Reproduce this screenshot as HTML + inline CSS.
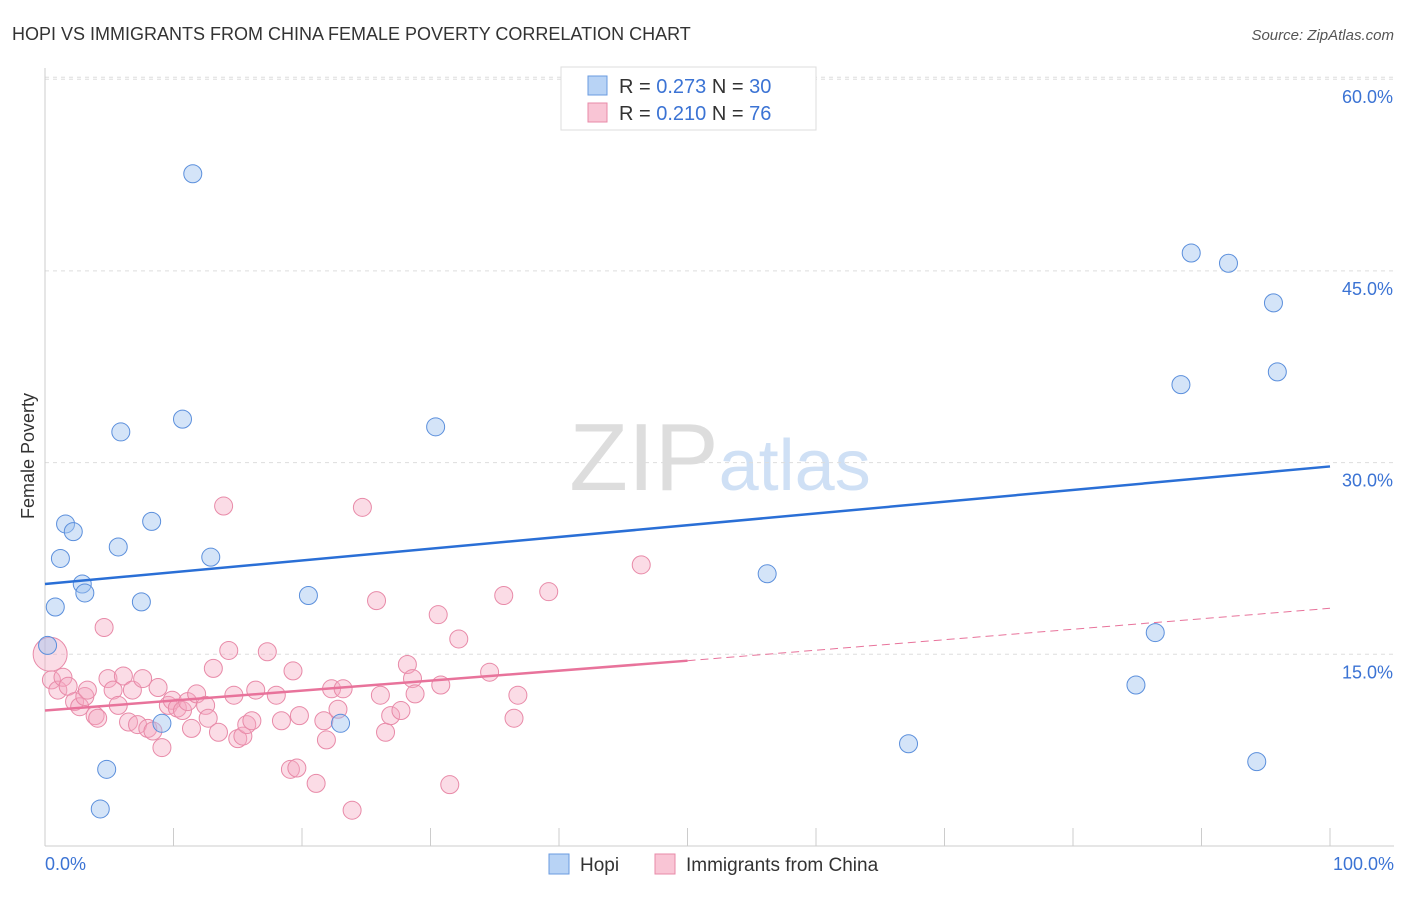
<!DOCTYPE html>
<html><head><meta charset="utf-8"><style>
body{margin:0;background:#fff;font-family:"Liberation Sans",sans-serif;}
svg text{font-family:"Liberation Sans",sans-serif;}
</style></head><body>
<svg id="chart" width="1406" height="892" viewBox="0 0 1406 892">
<text x="12" y="40" font-size="18" fill="#333">HOPI VS IMMIGRANTS FROM CHINA FEMALE POVERTY CORRELATION CHART</text>
<text x="1394" y="40" font-size="15" fill="#555" text-anchor="end" font-style="italic">Source: ZipAtlas.com</text>
<text x="720" y="490" font-size="96" text-anchor="middle" fill="#ddd" font-family="Liberation Serif"><tspan>ZIP</tspan><tspan fill="#cfe0f5" font-family="Liberation Sans" font-size="72">atlas</tspan></text>
<text transform="translate(34,456) rotate(-90)" font-size="18" fill="#333" text-anchor="middle">Female Poverty</text>
<g id="grid"></g><g id="marks"></g>
<g>
<rect x="561" y="67" width="255" height="63" fill="#fff" stroke="#ddd"/>
<rect x="588" y="76" width="19" height="19" fill="#b8d3f5" stroke="#6a9be0"/>
<rect x="588" y="103" width="19" height="19" fill="#f9c5d5" stroke="#e88aa8"/>
<text x="619" y="93" font-size="20" fill="#333">R = <tspan fill="#3b73d4">0.273</tspan>   N = <tspan fill="#3b73d4">30</tspan></text>
<text x="619" y="120" font-size="20" fill="#333">R = <tspan fill="#3b73d4">0.210</tspan>   N = <tspan fill="#3b73d4"> 76</tspan></text>
</g>
<g>
<rect x="549" y="854" width="20" height="20" fill="#b8d3f5" stroke="#6a9be0"/>
<text x="580" y="871" font-size="19" fill="#333">Hopi</text>
<rect x="655" y="854" width="20" height="20" fill="#f9c5d5" stroke="#e88aa8"/>
<text x="686" y="871" font-size="19" fill="#333">Immigrants from China</text>
</g>
</svg>
<script>
const yTicks=[15,30,45,60];
const yTickLabels=["15.0%","30.0%","45.0%","60.0%"];
const xTickLabels=["0.0%","100.0%"];
const hopiX=[11.5,89.2,92.1,95.6,88.4,95.9,5.9,10.7,30.4,1.6,2.2,8.3,5.7,1.2,12.9,2.9,3.1,0.8,7.5,20.5,56.2,0.2,86.4,84.9,23.0,9.1,67.2,4.8,94.3,4.3];
const hopiY=[52.6,46.4,45.6,42.5,36.1,37.1,32.4,33.4,32.8,25.2,24.6,25.4,23.4,22.5,22.6,20.5,19.8,18.7,19.1,19.6,21.3,15.7,16.7,12.6,9.6,9.6,8.0,6.0,6.6,2.9];
const chinaX=[0.4,0.5,1.0,1.4,1.8,2.3,2.7,3.1,3.3,3.9,4.1,4.6,4.9,5.3,5.7,6.1,6.5,6.8,7.2,7.6,8.0,8.4,8.8,9.1,9.6,9.9,10.3,10.7,11.1,11.4,11.8,12.5,12.7,13.1,13.5,13.9,14.3,14.7,15.0,15.4,15.7,16.1,16.4,17.3,18.0,18.4,19.1,19.3,19.6,19.8,21.1,21.7,21.9,22.3,22.8,23.2,23.9,24.7,25.8,26.1,26.5,26.9,27.7,28.2,28.6,28.8,30.6,30.8,31.5,32.2,34.6,35.7,36.5,36.8,39.2,46.4];
const chinaY=[15.0,13.0,12.2,13.2,12.5,11.3,10.9,11.7,12.2,10.2,10.0,17.1,13.1,12.2,11.0,13.3,9.7,12.2,9.5,13.1,9.2,9.0,12.4,7.7,11.0,11.4,10.8,10.6,11.3,9.2,11.9,11.0,10.0,13.9,8.9,26.6,15.3,11.8,8.4,8.6,9.5,9.8,12.2,15.2,11.8,9.8,6.0,13.7,6.1,10.2,4.9,9.8,8.3,12.3,10.7,12.3,2.8,26.5,19.2,11.8,8.9,10.2,10.6,14.2,13.1,11.9,18.1,12.6,4.8,16.2,13.6,19.6,10.0,11.8,19.9,22.0];
const hopiLine=[20.5,29.7];
const chinaLine=[10.6,14.5,18.6];
const NS="http://www.w3.org/2000/svg";
const X=v=>45+v*12.85, Y=v=>846-v*12.78;
function mk(t,a,p){const e=document.createElementNS(NS,t);for(const k in a)e.setAttribute(k,a[k]);p.appendChild(e);return e;}
const g=document.getElementById('grid'), m=document.getElementById('marks');
yTicks.forEach((v,i)=>{const l=mk('line',{x1:45,x2:1394,y1:Y(v),y2:Y(v),stroke:'#ddd','stroke-dasharray':'4,4'},g);


const t=mk('text',{x:1393,y:Y(v)+24,'font-size':18,fill:'#3b73d4','text-anchor':'end'},g);t.textContent=yTickLabels[i];

});
const gl=mk('line',{x1:45,x2:1394,y1:Y(60)-2,y2:Y(60)-2,stroke:'#ddd','stroke-dasharray':'4,4'},g);
mk('line',{x1:45,x2:45,y1:68,y2:846,stroke:'#ccc'},g);
mk('line',{x1:45,x2:1394,y1:846,y2:846,stroke:'#ccc'},g);
for(let i=0;i<=10;i++){const t=mk('line',{x1:X(i*10),x2:X(i*10),y1:828,y2:846,stroke:'#ccc'},g);

}
[[0,45,'start'],[1,1394,'end']].forEach(([i,x,a])=>{const t=mk('text',{x:x,y:870,'font-size':18,fill:'#3b73d4','text-anchor':a},g);t.textContent=xTickLabels[i];

});
chinaX.forEach((v,i)=>{const c=mk('circle',{cx:X(v),cy:Y(chinaY[i]),r:i==0?17:9,fill:'rgba(246,168,192,0.4)',stroke:'#e88aa8','stroke-width':1},m);

});
hopiX.forEach((v,i)=>{const c=mk('circle',{cx:X(v),cy:Y(hopiY[i]),r:9,fill:'rgba(160,196,240,0.45)',stroke:'#5b8fdc','stroke-width':1},m);

});
const hl=mk('line',{x1:X(0),y1:Y(hopiLine[0]),x2:X(100),y2:Y(hopiLine[1]),stroke:'#2a6fd6','stroke-width':2.5},m);


const cl=mk('line',{x1:X(0),y1:Y(chinaLine[0]),x2:X(50),y2:Y(chinaLine[1]),stroke:'#e8739b','stroke-width':2.5},m);


const cd=mk('line',{x1:X(50),y1:Y(chinaLine[1]),x2:X(100),y2:Y(chinaLine[2]),stroke:'#e8739b','stroke-width':1,'stroke-dasharray':'8,5'},m);


</script>
</body></html>
